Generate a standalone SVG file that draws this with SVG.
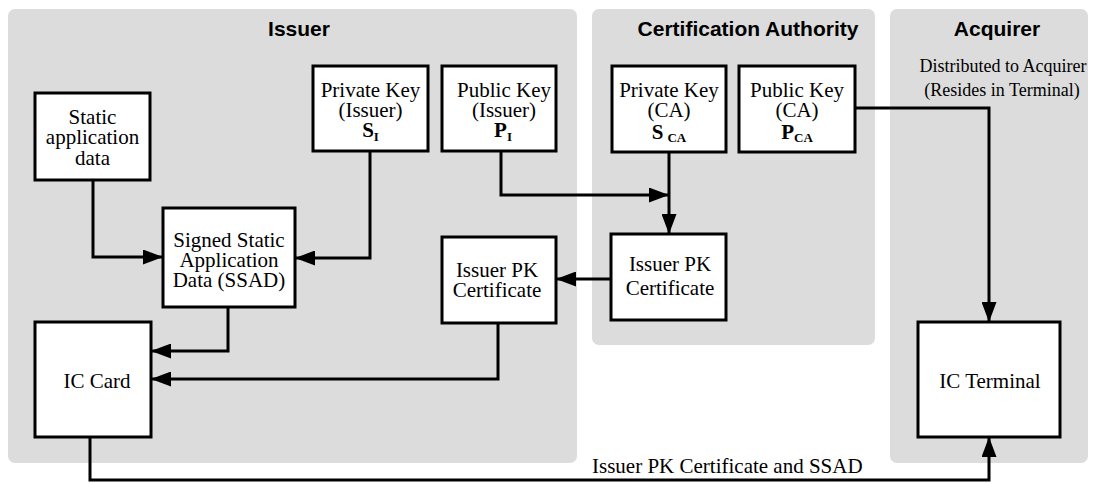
<svg xmlns="http://www.w3.org/2000/svg" width="1095" height="483" viewBox="0 0 1095 483">
<style>
.panel{fill:#dcdcdc;stroke:none}
.title{font-family:"Liberation Sans",Arial,sans-serif;font-weight:bold;font-size:21px;fill:#000;text-anchor:middle}
.box{fill:#fff;stroke:#000;stroke-width:3}
.t{font-family:"Liberation Serif","Times New Roman",serif;font-size:21px;fill:#000;text-anchor:middle}
.b{font-weight:bold}
.sub{font-size:13px;font-weight:bold}
.lbl{font-family:"Liberation Serif","Times New Roman",serif;font-size:21px;fill:#000}
.small{font-family:"Liberation Serif","Times New Roman",serif;font-size:18px;fill:#000;text-anchor:middle}
.c{fill:none;stroke:#000;stroke-width:3;marker-end:url(#ah)}
</style>
<defs>
<marker id="ah" markerUnits="userSpaceOnUse" markerWidth="21" markerHeight="15" refX="20" refY="7.5" orient="auto">
<path d="M0,0 L20,7.5 L0,15 z" fill="#000"/>
</marker>
</defs>
<rect width="1095" height="483" fill="#fff"/>
<g id="panels">
<rect class="panel" x="8" y="9" width="569" height="454" rx="7"/>
<rect class="panel" x="592" y="9" width="283" height="336" rx="7"/>
<rect class="panel" x="890" y="9" width="198" height="454" rx="7"/>
<text class="title" x="299" y="36">Issuer</text>
<text class="title" x="748" y="36">Certification Authority</text>
<text class="title" x="997" y="36">Acquirer</text>
<text class="small" x="1003" y="72">Distributed to Acquirer</text>
<text class="small" x="1002" y="96">(Resides in Terminal)</text>
</g>
<g id="connectors">
<path class="c" d="M93,180 V257 H163"/>
<path class="c" d="M370,151 V258 H295"/>
<path class="c" d="M501,151 V195 H669"/>
<path class="c" d="M669,151 V234"/>
<path class="c" d="M611,279 H556"/>
<path class="c" d="M228,307 V351 H151"/>
<path class="c" d="M498,323 V379 H151"/>
<path class="c" d="M90,437 V480 H989 V437"/>
<path class="c" d="M855,108 H989 V322"/>
<text class="lbl" x="592" y="473">Issuer PK Certificate and SSAD</text>
</g>
<g id="static-data">
<rect class="box" x="35" y="93" width="115" height="87"/>
<text class="t" x="92.5" y="124">Static</text>
<text class="t" x="92.5" y="144">application</text>
<text class="t" x="92.5" y="165">data</text>
</g>
<g id="private-key-issuer">
<rect class="box" x="313" y="66" width="115" height="85"/>
<text class="t" x="370.5" y="97">Private Key</text>
<text class="t" x="370.5" y="117">(Issuer)</text>
<text class="t" x="370.5" y="137"><tspan class="b">S</tspan><tspan class="sub" dy="4">I</tspan></text>
</g>
<g id="public-key-issuer">
<rect class="box" x="442" y="66" width="114" height="85"/>
<text class="t" x="504" y="97">Public Key</text>
<text class="t" x="504" y="117">(Issuer)</text>
<text class="t" x="503" y="137"><tspan class="b">P</tspan><tspan class="sub" dy="4">I</tspan></text>
</g>
<g id="private-key-ca">
<rect class="box" x="612" y="66" width="114" height="86"/>
<text class="t" x="669" y="97">Private Key</text>
<text class="t" x="669" y="117">(CA)</text>
<text class="t" x="669" y="139"><tspan class="b">S</tspan><tspan class="sub" dx="4" dy="3">CA</tspan></text>
</g>
<g id="public-key-ca">
<rect class="box" x="739" y="66" width="116" height="86"/>
<text class="t" x="797" y="97">Public Key</text>
<text class="t" x="797" y="117">(CA)</text>
<text class="t" x="797" y="139"><tspan class="b">P</tspan><tspan class="sub" dy="3">CA</tspan></text>
</g>
<g id="ssad">
<rect class="box" x="163" y="208" width="132" height="99"/>
<text class="t" x="229" y="247">Signed Static</text>
<text class="t" x="229" y="267">Application</text>
<text class="t" x="229" y="287">Data (SSAD)</text>
</g>
<g id="issuer-pk-cert">
<rect class="box" x="442" y="237" width="114" height="86"/>
<text class="t" x="497" y="277">Issuer PK</text>
<text class="t" x="497" y="297">Certificate</text>
</g>
<g id="ca-pk-cert">
<rect class="box" x="611" y="234" width="115" height="86"/>
<text class="t" x="670" y="271">Issuer PK</text>
<text class="t" x="670" y="295">Certificate</text>
</g>
<g id="ic-card">
<rect class="box" x="35" y="322" width="116" height="115"/>
<text class="t" x="97" y="388">IC Card</text>
</g>
<g id="ic-terminal">
<rect class="box" x="918" y="322" width="142" height="115"/>
<text class="t" x="990" y="388">IC Terminal</text>
</g>
</svg>
